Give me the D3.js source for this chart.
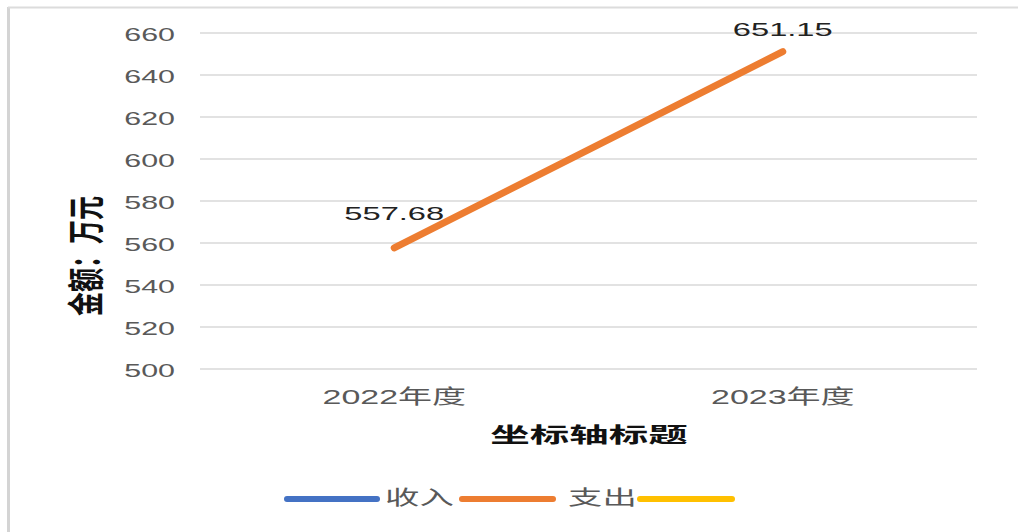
<!DOCTYPE html>
<html>
<head>
<meta charset="utf-8">
<script src="https://cdn.jsdelivr.net/npm/d3@7"></script>
<style>
  body { margin: 0; background: #fff; }
  text { font-family: "Liberation Sans", "Noto Sans CJK SC", sans-serif; }
</style>
</head>
<body>
<svg id="chart"></svg>
<script>
// chart data
const categories = ["2022年度", "2023年度"];
const seriesNames = ["收入", "支出", ""];
const incomeValues = [null, null];
const expenseValues = [557.68, 651.15];
const emptyValues = [null, null];
const yTicks = [500, 520, 540, 560, 580, 600, 620, 640, 660];
const xAxisTitle = "坐标轴标题";
const yAxisTitle = "金额：万元";

const colors = ["#4472C4", "#ED7D31", "#FFC000"];
const W = 1018, H = 532;
const SX = 1.7; // the reference is stretched sideways

const svg = d3.select("#chart").attr("width", W).attr("height", H);

// frame (left + top edge only visible)
svg.append("line").attr("x1", 8.5).attr("x2", 8.5).attr("y1", 7).attr("y2", H)
  .attr("stroke", "#d4d4d4").attr("stroke-width", 3);
svg.append("line").attr("x1", 8).attr("x2", W).attr("y1", 7.5).attr("y2", 7.5)
  .attr("stroke", "#dcdcdc").attr("stroke-width", 2);

const x = d3.scaleBand().domain(categories).range([200, 977]);
const y = d3.scaleLinear().domain([500, 660]).range([369, 33]);
const cx = (d) => x(d) + x.bandwidth() / 2;

// stretched text helper
function label(g, tx, ty, str, opts) {
  return g.append("text")
    .attr("transform", `translate(${tx},${ty}) scale(${opts.sx || SX},1)`)
    .attr("text-anchor", opts.anchor || "middle")
    .attr("dominant-baseline", "central")
    .attr("font-size", opts.size)
    .attr("font-weight", opts.weight || "normal")
    .attr("fill", opts.fill || "#595959")
    .text(str);
}

// gridlines
svg.append("g")
  .selectAll("line")
  .data(yTicks)
  .join("line")
  .attr("x1", 200)
  .attr("x2", 977)
  .attr("y1", (d) => y(d))
  .attr("y2", (d) => y(d))
  .attr("stroke", "#d9d9d9")
  .attr("stroke-width", 1.5);

// y tick labels
const yl = svg.append("g");
yTicks.forEach((t) => label(yl, 175, y(t) + 1, t, { size: 19, anchor: "end", sx: 1.6 }));

// x tick labels
const xl = svg.append("g");
categories.forEach((c) => label(xl, cx(c), 397, c, { size: 20 }));

// axis titles
label(svg, 589, 435, xAxisTitle, { size: 21, weight: "bold", fill: "#111", sx: 1.88 });
svg.append("text")
  .attr("transform", "translate(88,256) scale(1.55,1) rotate(-90)")
  .attr("text-anchor", "middle")
  .attr("dominant-baseline", "central")
  .attr("font-size", 24)
  .attr("font-weight", "bold")
  .attr("font-family", "'Noto Sans CJK SC', sans-serif")
  .attr("fill", "#111")
  .text(yAxisTitle);

// series lines
const line = d3.line()
  .defined((d) => d.v != null)
  .x((d) => cx(d.c))
  .y((d) => y(d.v));

[incomeValues, expenseValues, emptyValues].forEach((vals, i) => {
  const pts = categories.map((c, j) => ({ c: c, v: vals[j] }));
  svg.append("path")
    .datum(pts)
    .attr("d", line)
    .attr("fill", "none")
    .attr("stroke", colors[i])
    .attr("stroke-width", 7)
    .attr("stroke-linecap", "round");
});

// data labels for 支出
const labelDy = [-34, -22];
expenseValues.forEach((v, j) => {
  label(svg, cx(categories[j]), y(v) + labelDy[j], v.toFixed(2),
    { size: 19, fill: "#222", sx: 1.72 });
});

// legend
const legendItems = [
  { x1: 287, x2: 377, tx: 385 },
  { x1: 462, x2: 553, tx: 568 },
  { x1: 640, x2: 732, tx: null },
];
const lg = svg.append("g");
legendItems.forEach((it, i) => {
  lg.append("line")
    .attr("x1", it.x1).attr("x2", it.x2)
    .attr("y1", 499).attr("y2", 499)
    .attr("stroke", colors[i])
    .attr("stroke-width", 6)
    .attr("stroke-linecap", "round");
  if (it.tx != null && seriesNames[i]) {
    label(lg, it.tx, 498, seriesNames[i], { size: 20, anchor: "start", sx: 1.72 });
  }
});
</script>
</body>
</html>
